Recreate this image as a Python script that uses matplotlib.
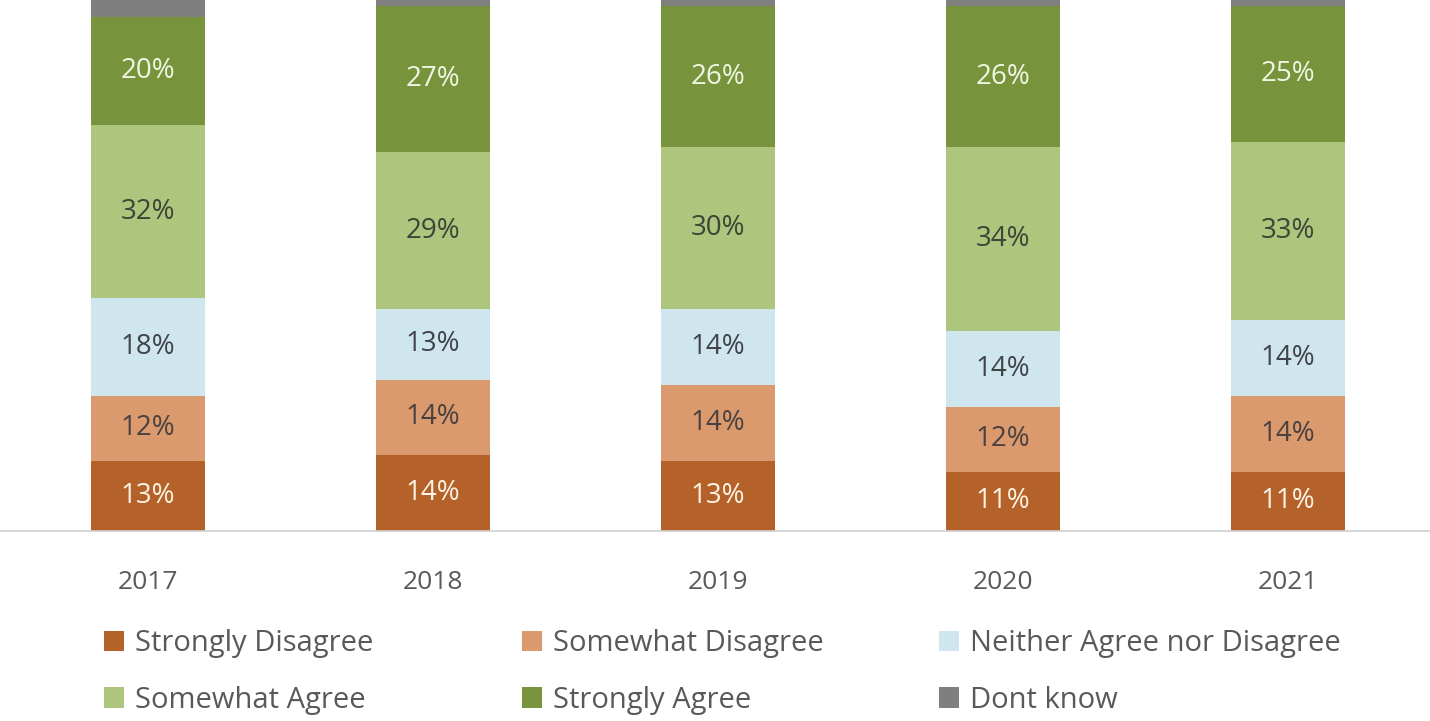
import matplotlib
matplotlib.use("Agg")
import matplotlib.pyplot as plt
import numpy as np

years = ["2017", "2018", "2019", "2020", "2021"]
categories = ["Strongly Disagree", "Somewhat Disagree", "Neither Agree nor Disagree",
              "Somewhat Agree", "Strongly Agree", "Dont know"]
strongly_disagree = [13, 14, 13, 11, 11]
somewhat_disagree = [12, 14, 14, 12, 14]
neither = [18, 13, 14, 14, 14]
somewhat_agree = [32, 29, 30, 34, 33]
strongly_agree = [20, 27, 26, 26, 25]
dont_know = [5, 3, 3, 3, 3]

series = [strongly_disagree, somewhat_disagree, neither, somewhat_agree, strongly_agree, dont_know]
colors = ["#B5622A", "#DB9A6E", "#CFE6EE", "#ADC57C", "#77933C", "#7F7F7F"]
label_colors = ["#FBF3E4", "#4A4040", "#404448", "#3E4436", "#F1F6E4", None]

plt.rcParams['font.family'] = ['Open Sans', 'DejaVu Sans']

fig = plt.figure(figsize=(14.3, 7.21), dpi=100)
ax = fig.add_axes([0, (721 - 531) / 721, 1, 531 / 721])

x = np.arange(len(years))
bottom = np.zeros(len(years))
handles = []
for vals, col, lc, name in zip(series, colors, label_colors, categories):
    vals = np.array(vals, dtype=float)
    b = ax.bar(x, vals, bottom=bottom, width=0.397, color=col, label=name, linewidth=0)
    handles.append(b)
    if lc is not None:
        for xi, v, bt in zip(x, vals, bottom):
            ax.text(xi, bt + v / 2, f"{int(v)}%", ha="center", va="center",
                    fontsize=20, color=lc)
    bottom += vals

ax.set_xlim(-148 / 285, (1430 - 148) / 285)
ax.set_ylim(0, 98.2)
for s in ["top", "right", "left"]:
    ax.spines[s].set_visible(False)
ax.spines["bottom"].set_color("#D0D0D0")
ax.spines["bottom"].set_linewidth(1.2)
ax.set_yticks([])
ax.set_xticks(x)
ax.set_xticklabels(years, fontsize=19, color="#595959")
ax.tick_params(axis="x", length=0, pad=28)

# legend: three columns, each placed at its own x position
columns = [(0, 3), (1, 4), (2, 5)]
col_x = [105, 523, 940]
for (i, j), cx in zip(columns, col_x):
    leg = fig.legend([handles[i], handles[j]], [categories[i], categories[j]],
                     loc="center left", bbox_to_anchor=((cx - 1) / 1430, (721 - 672) / 721),
                     ncol=1, frameon=False,
                     fontsize=21, handlelength=0.7, handleheight=0.7, handletextpad=0.35,
                     labelspacing=0.95, borderpad=0, borderaxespad=0)
    for t in leg.get_texts():
        t.set_color("#595959")

fig.savefig("out.png", dpi=100)
